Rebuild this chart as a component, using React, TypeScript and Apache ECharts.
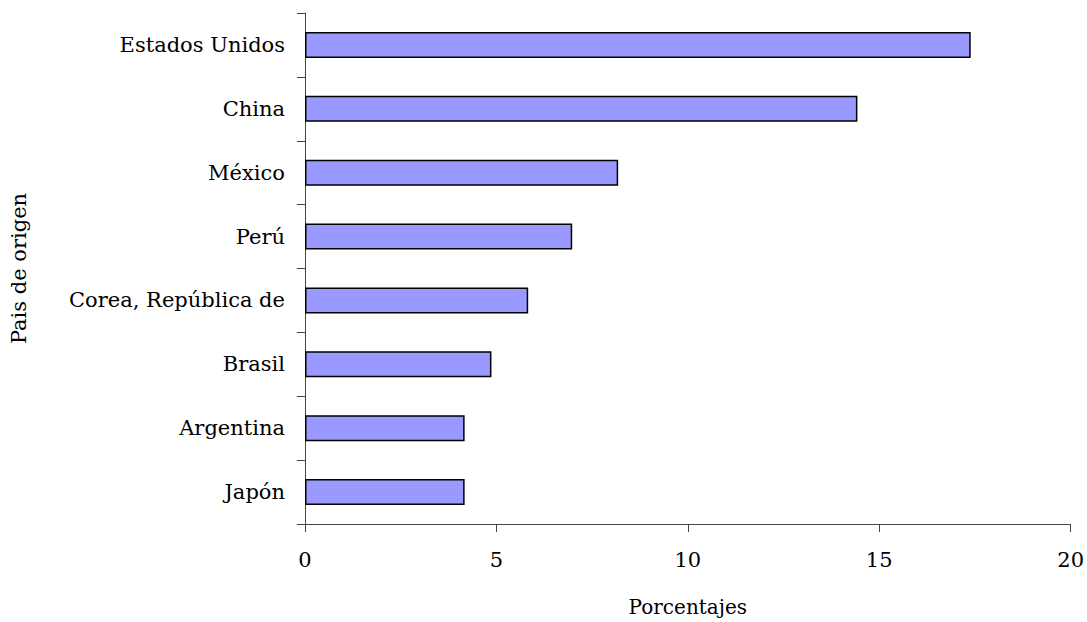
import React, { useEffect, useRef } from "react";
import * as echarts from "echarts";

const categories = [
  "Estados Unidos",
  "China",
  "México",
  "Perú",
  "Corea, República de",
  "Brasil",
  "Argentina",
  "Japón",
];
const values = [17.39, 14.43, 8.18, 6.98, 5.83, 4.87, 4.17, 4.17];
const xTicks = [0, 5, 10, 15, 20];
const xAxisTitle = "Porcentajes";
const yAxisTitle = "Pais de origen";

const FONT = "'DejaVu Serif', serif";

export default function App() {
  const ref = useRef<HTMLDivElement>(null);
  useEffect(() => {
    if (!ref.current) return;
    const chart = echarts.init(ref.current, null, { renderer: "svg" });
    chart.setOption({
      animation: false,
      backgroundColor: "#ffffff",
      grid: { left: 305, top: 13, right: 14, bottom: 97 },
      xAxis: {
        type: "value",
        min: xTicks[0],
        max: xTicks[xTicks.length - 1],
        interval: 5,
        name: xAxisTitle,
        nameLocation: "middle",
        nameGap: 73,
        nameTextStyle: { fontFamily: FONT, fontSize: 20, color: "#000" },
        axisLine: { show: true, lineStyle: { color: "#444", width: 1 } },
        axisTick: { show: true, length: 8, lineStyle: { color: "#444" } },
        axisLabel: { fontFamily: FONT, fontSize: 21, color: "#000", margin: 25 },
        splitLine: { show: false },
      },
      yAxis: {
        type: "category",
        data: categories,
        inverse: true,
        name: yAxisTitle,
        nameLocation: "middle",
        nameGap: 276,
        nameRotate: 90,
        nameTextStyle: { fontFamily: FONT, fontSize: 21, color: "#000" },
        axisLine: { show: true, lineStyle: { color: "#444", width: 1 } },
        axisTick: { show: true, length: 8, lineStyle: { color: "#444" } },
        axisLabel: { fontFamily: FONT, fontSize: 21, color: "#000", margin: 20 },
      },
      series: [
        {
          type: "bar",
          data: values,
          barWidth: 26,
          itemStyle: { color: "#9999FF", borderColor: "#000", borderWidth: 1.5 },
        },
      ],
    });
    return () => chart.dispose();
  }, []);
  return (
    <div
      ref={ref}
      style={{ position: "absolute", left: 0, top: 0, width: 1087, height: 622 }}
    />
  );
}
